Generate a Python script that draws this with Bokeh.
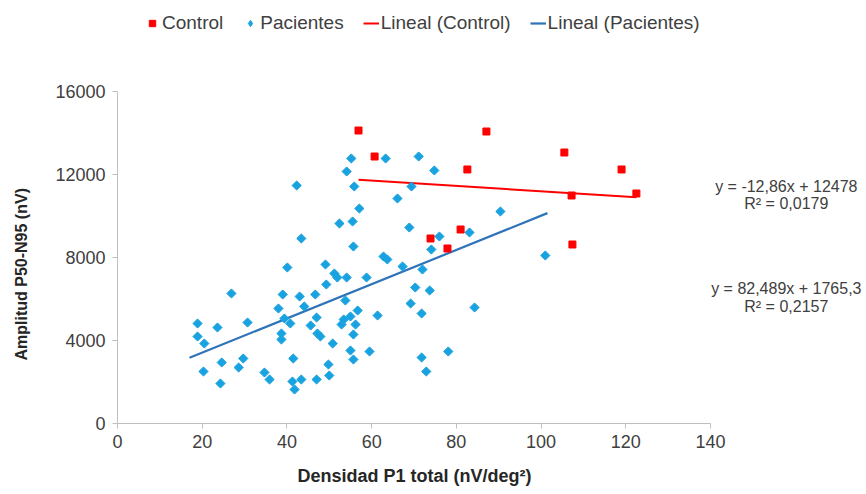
import math
from bokeh.plotting import figure
from bokeh.models import Range1d, Legend, LegendItem, Label, FixedTicker, Title, LinearAxis
from bokeh.embed import file_html
from bokeh.resources import INLINE

# ---- data ----
control_x = [56.9, 60.7, 82.6, 87.1, 105.5, 119.0, 122.5, 107.2, 107.4, 81.0, 73.9, 77.9]
control_y = [14120, 12867, 12241, 14072, 13060, 12241, 11084, 10988, 8627, 9349, 8916, 8434]

pac_x = [55.2, 54.1, 42.3, 55.9, 57.1, 52.4, 55.5, 43.4, 55.7, 40.1, 49.1, 63.3, 71.1, 74.8,
         69.4, 66.1, 90.4, 68.9, 76.0, 83.1, 74.1, 101.0, 62.8, 63.7, 67.3, 72.0, 51.2, 51.9,
         54.1, 58.8, 49.3, 26.9, 39.0, 43.0, 46.7, 53.8, 38.0, 44.1, 47.0, 56.7, 55.0, 53.4,
         52.9, 39.4, 40.8, 18.9, 23.6, 30.7, 45.6, 56.2, 47.2, 47.9, 38.7, 38.7, 18.9, 20.5,
         55.7, 50.8, 55.0, 59.5, 41.5, 55.7, 29.7, 24.6, 49.8, 28.6, 20.3, 34.7, 50.0, 35.9,
         24.3, 41.3, 43.4, 47.0, 41.8, 70.3, 73.7, 69.2, 71.8, 84.3, 61.4, 78.1, 71.8, 72.9]
pac_y = [12771, 12145, 11470, 11422, 10361, 9639, 9735, 8916, 8530, 7518, 7663, 12771, 12867, 12193,
         11422, 10843, 10217, 9446, 9012, 9205, 8386, 8096, 8048, 7904, 7566, 7422, 7229, 7036,
         7036, 7036, 6699, 6265, 6217, 6120, 6217, 5928, 5542, 5639, 5108, 5446, 5157, 5012,
         4771, 5060, 4819, 4819, 4627, 4867, 4723, 4771, 4337, 4193, 4337, 4048, 4193, 3855,
         4289, 3855, 3518, 3470, 3133, 3084, 3133, 2940, 2843, 2699, 2506, 2458, 2313, 2120,
         1928, 2024, 2120, 2120, 1639, 6554, 6410, 5783, 5301, 5590, 5205, 3470, 3181, 2506]

# trend lines (coefficients as printed on the chart, x extent)
ctrl_slope, ctrl_intercept = -12.86, 12478
pac_slope, pac_intercept = 82.489, 1765.3
ctrl_line_x = [min(control_x), max(control_x)]
pac_line_x = [17.0, 101.5]

eq_control = ["y = -12,86x + 12478", "R² = 0,0179"]
eq_pac = ["y = 82,489x + 1765,3", "R² = 0,2157"]

x_ticks = [0, 20, 40, 60, 80, 100, 120, 140]
y_ticks = [0, 4000, 8000, 12000, 16000]
x_axis_span = (0, 140)
y_axis_span = (0, 16000)
x_title = "Densidad P1 total (nV/deg²)"
y_title = "Amplitud P50-N95 (nV)"

RED = "#ff0000"
BLUE_PT = "#18a2e0"
BLUE_LN = "#2f73b8"
TXT = "#404040"
AX = "#bfbfbf"
FONT = "Liberation Sans"

W, H = 866, 494
LEFT, BOTTOM = 117, 71
FRAME_W, FRAME_H = W - LEFT, H - BOTTOM
AX_W, AX_H = 593, 332  # pixels taken by the 0-140 / 0-16000 spans

x_end = x_axis_span[1] * FRAME_W / AX_W
y_end = y_axis_span[1] * FRAME_H / AX_H

p = figure(width=W, height=H, x_range=Range1d(0, x_end), y_range=Range1d(0, y_end),
           output_backend="svg", toolbar_location=None,
           min_border_left=LEFT, min_border_right=0, min_border_top=0, min_border_bottom=BOTTOM)
p.outline_line_color = None
p.grid.visible = False
p.background_fill_color = "white"
p.border_fill_color = "white"

for ax in (p.xaxis, p.yaxis):
    ax.axis_line_color = AX
    ax.major_tick_line_color = AX
    ax.minor_tick_line_color = None
    ax.major_tick_in = 0
    ax.major_tick_out = 5
    ax.major_label_text_font = FONT
    ax.major_label_text_font_size = "18px"
    ax.major_label_text_color = TXT
p.xaxis.ticker = FixedTicker(ticks=x_ticks)
p.yaxis.ticker = FixedTicker(ticks=y_ticks)
p.xaxis.bounds = x_axis_span
p.yaxis.bounds = y_axis_span
p.xaxis.major_label_standoff = 6
p.yaxis.major_label_standoff = 7


def spacer(gap):
    # blank axis (single white tick, no label) used as a gap before the axis title
    return LinearAxis(ticker=FixedTicker(ticks=[0]), major_tick_out=gap, major_tick_in=0,
                      minor_tick_out=0, minor_tick_in=0, major_label_standoff=0,
                      major_label_text_color=None, major_label_text_font_size="1px",
                      axis_line_color=None, major_tick_line_color="white",
                      minor_tick_line_color=None)


p.add_layout(spacer(12), "below")
p.add_layout(spacer(22), "left")

# axis titles centred on the 0-140 / 0-16000 spans (the frame is wider/taller)
p.add_layout(Title(text=x_title, align="left", offset=180, standoff=2,
                   text_font=FONT, text_font_size="18px", text_font_style="bold",
                   text_color="#262626"), "below")
p.add_layout(Title(text=y_title, align="left", offset=63, standoff=2,
                   text_font=FONT, text_font_size="16px", text_font_style="bold",
                   text_color="#262626"), "left")

r_ctrl_line = p.line(ctrl_line_x, [ctrl_slope * v + ctrl_intercept for v in ctrl_line_x],
                     line_color=RED, line_width=2)
r_pac_line = p.line(pac_line_x, [pac_slope * v + pac_intercept for v in pac_line_x],
                    line_color=BLUE_LN, line_width=2.2)
r_pac = p.scatter(pac_x, pac_y, marker="square", angle=math.pi / 4, size=6.5,
                  fill_color=BLUE_PT, line_color=BLUE_PT)
r_ctrl = p.scatter(control_x, control_y, marker="square", size=7,
                   fill_color=RED, line_color=RED)
# legend swatch for the diamonds (the legend does not rotate markers); hidden on the plot
r_pac_key = p.scatter(pac_x, pac_y, marker="diamond", size=9, visible=False,
                      fill_color=BLUE_PT, line_color=BLUE_PT)

legend = Legend(items=[LegendItem(label="Control", renderers=[r_ctrl]),
                       LegendItem(label="Pacientes", renderers=[r_pac_key]),
                       LegendItem(label="Lineal (Control)", renderers=[r_ctrl_line]),
                       LegendItem(label="Lineal (Pacientes)", renderers=[r_pac_line])],
                orientation="horizontal", location=(27, 389),
                glyph_width=16, glyph_height=20, label_height=20, label_standoff=2,
                spacing=19, padding=0, margin=0, inactive_fill_alpha=0,
                border_line_color=None, background_fill_alpha=0,
                label_text_font=FONT, label_text_font_size="19px", label_text_color=TXT)
p.add_layout(legend)

for lines, ys in ((eq_control, (11422, 10602)), (eq_pac, (6506, 5639))):
    for t, yv in zip(lines, ys):
        p.add_layout(Label(x=157.9, y=yv, text=t, text_align="center", text_baseline="middle",
                           text_font=FONT, text_font_size="16px", text_color=TXT))

open("out.html", "w").write(file_html(p, INLINE))
